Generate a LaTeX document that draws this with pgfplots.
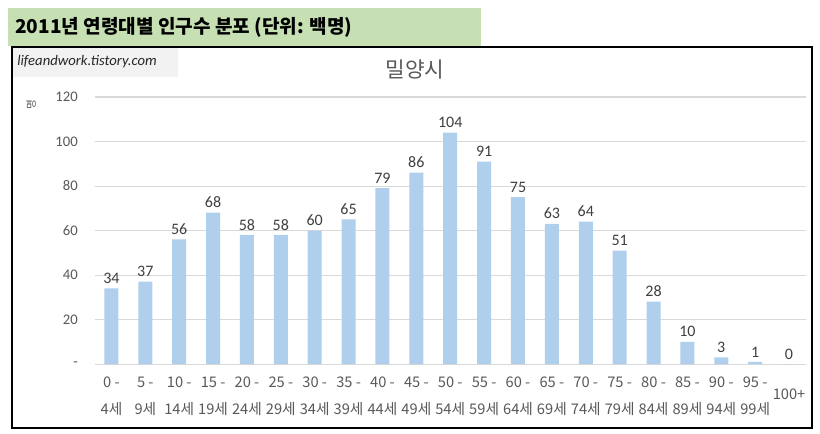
\documentclass[border=0pt]{standalone}
\usepackage{fontspec}
\usepackage{pgfplots}
\pgfplotsset{compat=1.18}
\setmainfont{Carlito}
\newfontfamily\kr{Noto Sans CJK KR}
\definecolor{bandgreen}{HTML}{C6E0B4}
\definecolor{barblue}{HTML}{B0CFEC}
\definecolor{gridgray}{HTML}{D9D9D9}
\definecolor{tickgray}{HTML}{595959}
\definecolor{labelgray}{HTML}{404040}
\definecolor{wmgray}{HTML}{F2F2F2}
\begin{document}
\begin{tikzpicture}[x=0.75pt,y=0.75pt]
\useasboundingbox (0,0) rectangle (820,433);
\fill[white] (0,0) rectangle (820,433);
\fill[bandgreen] (8,387) rectangle (481,425);
\node[anchor=west, inner sep=0pt, font=\kr\bfseries\fontsize{14.3}{16}\selectfont] at (15,406) {2011년 연령대별 인구수 분포 (단위: 백명)};
\draw[line width=1.1pt] (12,5) rectangle (812,386);
\fill[wmgray] (13,356) rectangle (178,385);
\node[anchor=west, inner sep=0pt, font=\itshape\fontsize{11}{13}\selectfont, color=black!85] at (17,371) {lifeandwork.tistory.com};
\node[font=\kr\fontsize{16}{18}\selectfont, color=tickgray] at (415,363) {밀양시};
\node[rotate=90, font=\kr\fontsize{8}{9}\selectfont, color=tickgray] at (31,328) {명};
\begin{axis}[
  at={(70.875pt,51.75pt)}, anchor=south west,
  scale only axis, width=533.6pt, height=200.25pt,
  xmin=-0.5, xmax=20.5, ymin=0, ymax=120,
  /pgf/number format/assume math mode=true,
  axis line style={draw=none},
  major tick length=0pt,
  ymajorgrids, grid style={draw=gridgray, line width=0.75pt},
  ytick={0,20,40,60,80,100,120},
  yticklabels={-,20,40,60,80,100,120},
  yticklabel style={font=\fontsize{11}{13}\selectfont, color=tickgray, xshift=-9pt},
  xtick={0,...,20},
  xticklabels={{0 -\\[8pt]4세},{5 -\\[8pt]9세},{10 -\\[8pt]14세},{15 -\\[8pt]19세},{20 -\\[8pt]24세},{25 -\\[8pt]29세},{30 -\\[8pt]34세},{35 -\\[8pt]39세},{40 -\\[8pt]44세},{45 -\\[8pt]49세},{50 -\\[8pt]54세},{55 -\\[8pt]59세},{60 -\\[8pt]64세},{65 -\\[8pt]69세},{70 -\\[8pt]74세},{75 -\\[8pt]79세},{80 -\\[8pt]84세},{85 -\\[8pt]89세},{90 -\\[8pt]94세},{95 -\\[8pt]99세},{\mbox{}\\[4.5pt]100+}},
  xticklabel style={font=\kr\fontsize{11}{12.5}\selectfont, align=center, color=tickgray, anchor=north, yshift=-6pt},
  ybar, bar width=10.5pt,
  nodes near coords,
  nodes near coords style={font=\fontsize{12}{14}\selectfont, color=labelgray},
  clip=false,
]
\addplot[fill=barblue, draw=none] coordinates {
(0,34) (1,37) (2,56) (3,68) (4,58) (5,58) (6,60) (7,65) (8,79) (9,86)
(10,104) (11,91) (12,75) (13,63) (14,64) (15,51) (16,28) (17,10) (18,3) (19,1) (20,0)};
\end{axis}
\end{tikzpicture}
\end{document}
